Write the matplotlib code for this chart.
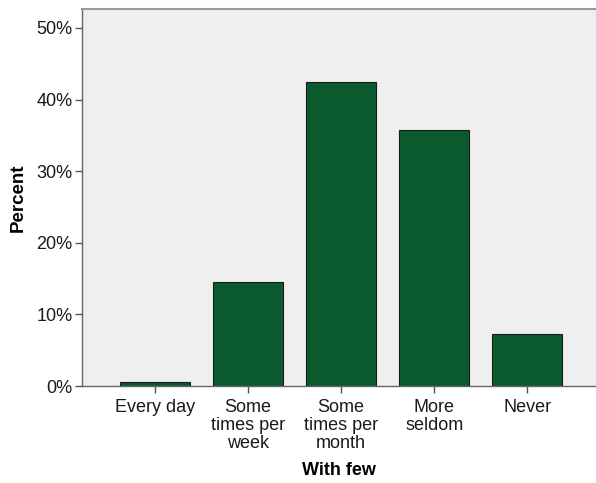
import matplotlib.pyplot as plt
import numpy as np

plt.rcParams['font.family'] = ['Liberation Sans', 'DejaVu Sans']

# data
categories = ['Every day', 'Some\ntimes per\nweek', 'Some\ntimes per\nmonth', 'More\nseldom', 'Never']
percent = [0.6, 14.5, 42.4, 35.7, 7.2]
y_ticks = [0, 10, 20, 30, 40, 50]

fig = plt.figure(figsize=(5.96, 4.83), dpi=100)
ax = fig.add_axes([0.1376, 0.2008, 0.8624, 0.7806])
ax.set_facecolor('#efefef')

x = np.arange(len(categories))
ax.bar(x, percent, width=0.75, color='#0b5a2d', edgecolor='#1a1a1a', linewidth=0.8, zorder=2)

ax.set_xlim(-0.784, 4.737)
ax.set_ylim(0, 52.65)
ax.set_yticks(y_ticks)
ax.set_yticklabels([str(t) + '%' for t in y_ticks], fontsize=13, color='#1a1a1a')
ax.set_xticks(x)
ax.set_xticklabels(categories, fontsize=13, color='#1a1a1a', linespacing=1.1)
ax.tick_params(axis='both', direction='out', length=5, width=1, color='#555555')
ax.tick_params(axis='x', pad=4)
ax.tick_params(axis='y', pad=2)

for s in ['left', 'bottom']:
    ax.spines[s].set_color('#666666')
    ax.spines[s].set_linewidth(1)
ax.spines['top'].set_color('#999999')
ax.spines['top'].set_linewidth(1.5)
ax.spines['right'].set_visible(False)

ax.set_ylabel('Percent', fontsize=13.5, fontweight='bold', labelpad=7)
ax.set_xlabel('With few', fontsize=13, fontweight='bold', labelpad=7)

fig.savefig('out.png', dpi=100)
